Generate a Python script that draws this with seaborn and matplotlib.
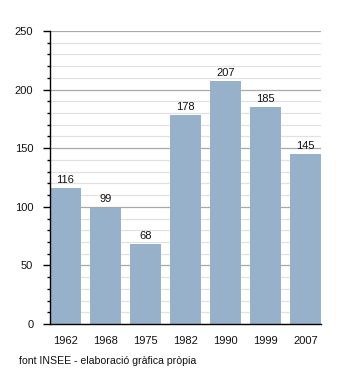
import matplotlib
matplotlib.use("Agg")
import matplotlib.pyplot as plt
from matplotlib.ticker import MultipleLocator
import seaborn as sns
import pandas as pd

years = ["1962", "1968", "1975", "1982", "1990", "1999", "2007"]
population = [116, 99, 68, 178, 207, 185, 145]
source_note = "font INSEE - elaboració gràfica pròpia"

sns.set_theme(style="white")
plt.rcParams["font.family"] = ["Liberation Sans", "DejaVu Sans"]

df = pd.DataFrame({"year": years, "value": population})

fig = plt.figure(figsize=(3.5, 3.73), dpi=100)
ax = fig.add_axes([50 / 350, 1 - 324 / 373, 271 / 350, 293 / 373])

sns.barplot(data=df, x="year", y="value", color="#98b1cb", saturation=1,
            width=0.775, linewidth=0, edgecolor="none", ax=ax, zorder=3)

ax.set_xlim(-0.3875, 6.3875)
ax.set_ylim(0, 250)
ax.yaxis.set_major_locator(MultipleLocator(50))
ax.yaxis.set_minor_locator(MultipleLocator(10))
ax.grid(which="major", axis="y", color="#a8a8a8", linewidth=0.9, zorder=1)
ax.grid(which="minor", axis="y", color="#e2e2e2", linewidth=0.9, zorder=1)
ax.set_axisbelow(True)

for side in ("top", "right"):
    ax.spines[side].set_visible(False)
for side in ("left", "bottom"):
    ax.spines[side].set_color("black")
    ax.spines[side].set_linewidth(1.0)
    ax.spines[side].set_zorder(4)

ax.tick_params(axis="y", which="major", left=True, length=5, width=1,
               color="black", labelsize=8, pad=7, labelcolor="#111111")
ax.tick_params(axis="y", which="minor", left=True, length=2.5, width=1,
               color="black")
ax.tick_params(axis="x", bottom=False, labelsize=8, pad=3,
               labelcolor="#111111")
ax.set_xlabel("")
ax.set_ylabel("")

for i, v in enumerate(population):
    ax.text(i, v + 3, str(v), ha="center", va="bottom", fontsize=8,
            color="#111111")

fig.text(19 / 350, 1 - 361 / 373, source_note, ha="left", va="center",
         fontsize=7.6, color="#111111")

fig.savefig("out.png", dpi=100)
